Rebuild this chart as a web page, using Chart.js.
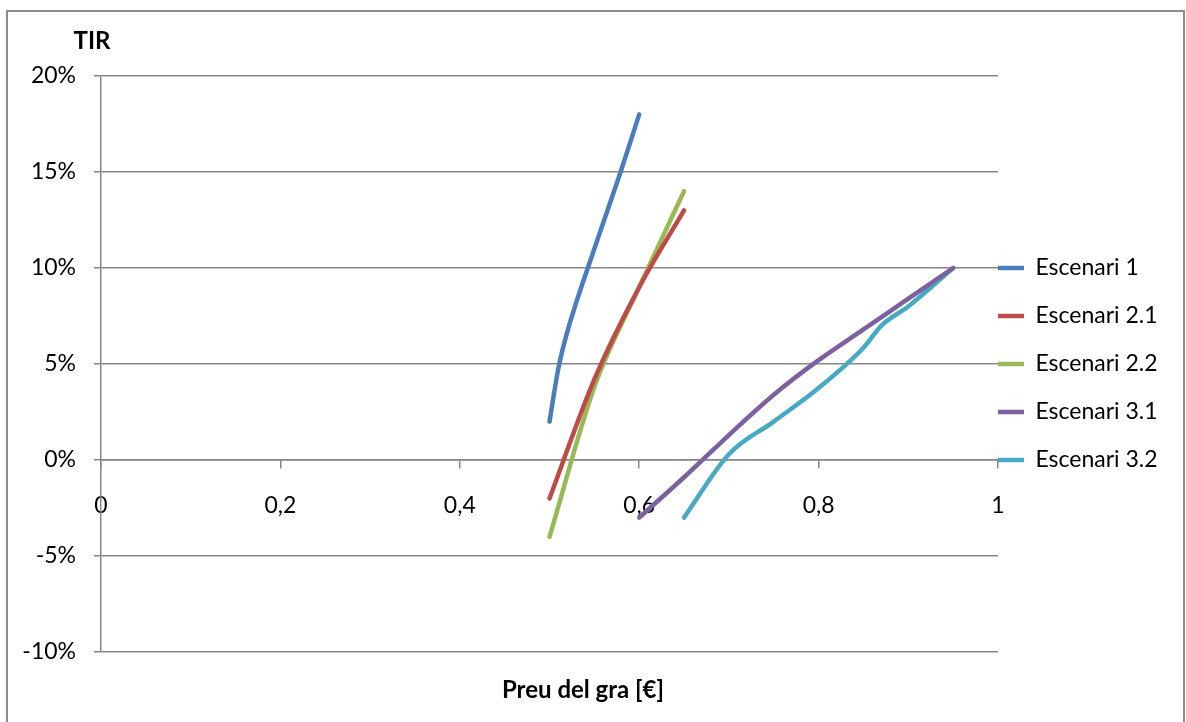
<!DOCTYPE html>
<html>
<head>
<meta charset="utf-8">
<script src="https://cdn.jsdelivr.net/npm/chart.js@4"></script>
<style>
  html, body { margin: 0; padding: 0; background: #fff; }
  #wrap { position: relative; width: 1186px; height: 722px; }
</style>
</head>
<body>
<div id="wrap"><canvas id="tirChart" width="1186" height="722"></canvas></div>
<script>
"use strict";

// Price of grain [€] vs TIR (%) for each scenario
const xTicks = [0, 0.2, 0.4, 0.6, 0.8, 1];
const yTicks = [-10, -5, 0, 5, 10, 15, 20];

const seriesNames = ["Escenari 1", "Escenari 2.1", "Escenari 2.2", "Escenari 3.1", "Escenari 3.2"];
const seriesColors = ["#4a7ebb", "#be4b48", "#98b954", "#7d60a0", "#46aac5"];

const esc1Price = [0.5, 0.51, 0.52, 0.55, 0.58, 0.6];
const esc1Tir   = [2, 4.8, 6.7, 11, 15.1, 18];

const esc21Price = [0.5, 0.55, 0.6, 0.65];
const esc21Tir   = [-2, 4.2, 9, 13];

const esc22Price = [0.5, 0.55, 0.6, 0.65];
const esc22Tir   = [-4, 3.8, 9, 14];

const esc31Price = [0.6, 0.65, 0.7, 0.75, 0.8, 0.85, 0.9, 0.95];
const esc31Tir   = [-3, -0.9, 1.3, 3.4, 5.2, 6.8, 8.4, 10];

const esc32Price = [0.65, 0.7, 0.75, 0.8, 0.85, 0.87, 0.9, 0.95];
const esc32Tir   = [-3, 0.3, 2, 3.75, 5.85, 7, 8, 10];

const FONT = "Lato, 'Liberation Sans', sans-serif";
const GRID = "#868686";
const LEGEND_PAD = 25;

function toPoints(xs, ys) {
    return xs.map((x, i) => ({ x: x, y: ys[i] }));
}

const allSeries = [
    toPoints(esc1Price, esc1Tir),
    toPoints(esc21Price, esc21Tir),
    toPoints(esc22Price, esc22Tir),
    toPoints(esc31Price, esc31Tir),
    toPoints(esc32Price, esc32Tir)
];

// Outer frame, plus the two bold axis captions placed like Excel does
const chromePlugin = {
    id: "chrome",
    beforeDraw(chart) {
        const c = chart.ctx;
        c.save();
        c.strokeStyle = "#8c8c8c";
        c.lineWidth = 2;
        c.strokeRect(7, 11, 1177, 800);
        c.restore();
    },
    afterDraw(chart) {
        const c = chart.ctx;
        const area = chart.chartArea;
        c.save();
        c.fillStyle = "#000";
        c.font = "bold 24px " + FONT;
        c.textAlign = "center";
        c.textBaseline = "middle";
        c.fillText("TIR", area.left - 9, 41);
        c.fillText("Preu del gra [€]", 583, 690);
        c.restore();
    }
};

// Legend samples sit right against the plot edge in the reference
const legendShift = {
    id: "legendShift",
    afterLayout(chart) {
        chart.legend.left -= LEGEND_PAD;
        chart.legend.right -= LEGEND_PAD;
    }
};

const ctx = document.getElementById("tirChart").getContext("2d");
const tirChart = new Chart(ctx, {
    type: "line",
    data: {
        datasets: seriesNames.map((name, i) => ({
            label: name,
            data: allSeries[i],
            borderColor: seriesColors[i],
            backgroundColor: seriesColors[i],
            borderWidth: 4.5,
            borderCapStyle: "round",
            borderJoinStyle: "round",
            pointRadius: 0,
            cubicInterpolationMode: "monotone",
            fill: false
        }))
    },
    options: {
        responsive: false,
        animation: false,
        layout: { padding: { top: 76, bottom: 70, left: 0, right: 0 } },
        scales: {
            x: {
                type: "linear",
                position: { y: 0 },
                min: 0,
                max: 1,
                afterBuildTicks(scale) {
                    scale.ticks = xTicks.map(v => ({ value: v }));
                },
                afterFit(scale) { scale.height = 0; },
                grid: { drawOnChartArea: false, drawTicks: true, tickLength: 8, color: GRID, lineWidth: 1.5 },
                border: { display: true, color: GRID, width: 1.5 },
                ticks: {
                    color: "#000",
                    padding: 24,
                    maxRotation: 0,
                    font: { family: FONT, size: 23 },
                    callback: v => String(v).replace(".", ",")
                }
            },
            y: {
                min: -10,
                max: 20,
                afterBuildTicks(scale) {
                    scale.ticks = yTicks.map(v => ({ value: v }));
                },
                afterFit(scale) { scale.width = 101; },
                grid: { color: GRID, lineWidth: 1.5, tickLength: 7 },
                border: { display: true, color: GRID, width: 1.5 },
                ticks: {
                    color: "#000",
                    padding: 18,
                    font: { family: FONT, size: 23 },
                    callback: v => v + "%"
                }
            }
        },
        plugins: {
            legend: {
                position: "right",
                align: "center",
                fullSize: false,
                maxWidth: 188,
                labels: {
                    color: "#000",
                    font: { family: FONT, size: 23 },
                    padding: LEGEND_PAD,
                    usePointStyle: true,
                    pointStyle: "line",
                    pointStyleWidth: 26,
                    boxWidth: 26
                }
            },
            tooltip: { enabled: false }
        }
    },
    plugins: [chromePlugin, legendShift]
});
</script>
</body>
</html>
